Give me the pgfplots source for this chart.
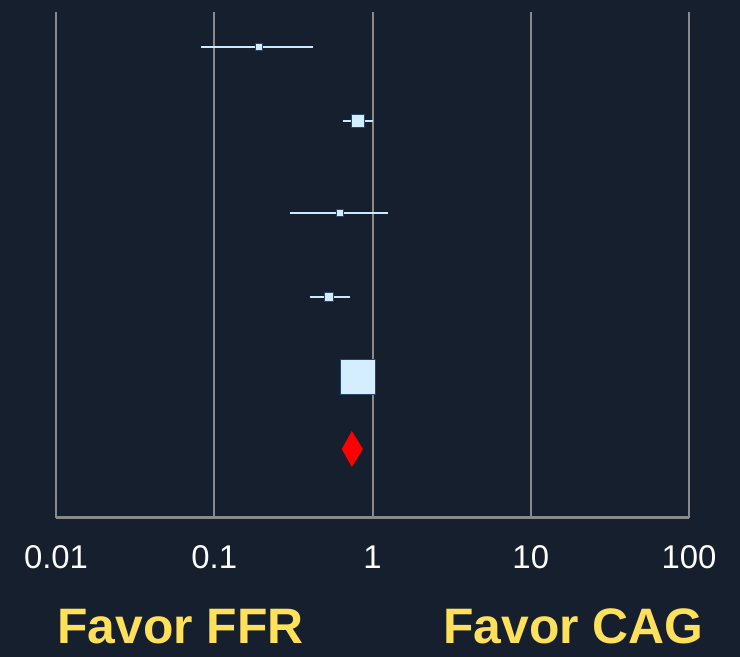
\documentclass[border=0pt]{standalone}
\usepackage{pgfplots}
\pgfplotsset{compat=1.18}
\usepackage{fontspec}
\setmainfont{Liberation Sans}
\definecolor{bg}{HTML}{161F2E}
\definecolor{gridgray}{HTML}{8A8A8A}
\definecolor{ptfill}{HTML}{D4EDFF}
\definecolor{ptedge}{HTML}{24466B}
\definecolor{ciline}{HTML}{CDE9FF}
\definecolor{favor}{HTML}{FFE05A}
\begin{document}
\begin{tikzpicture}[x=1bp,y=1bp]
\path[use as bounding box] (0,0) rectangle (740,657);
\fill[bg] (0,0) rectangle (740,657);
\begin{axis}[
  at={(56bp,139bp)}, anchor=south west,
  scale only axis, width=633bp, height=506bp,
  xmode=log, xmin=0.01, xmax=100, ymin=0, ymax=506,
  enlargelimits=false, clip=false,
  axis y line=none,
  axis x line*=bottom,
  x axis line style={-, draw=gridgray, line width=3bp},
  xtick={0.01,0.1,1,10,100},
  xticklabels={0.01,0.1,1,10,100},
  minor xtick={},
  ytick=\empty,
  major tick length=0pt, minor tick length=0pt,
  tick style={draw=none},
  xmajorgrids,
  major grid style={draw=gridgray, line width=2bp},
  xticklabel style={font=\fontsize{33}{33}\selectfont, text=white, anchor=base, inner sep=0pt, yshift=-51bp},
  ci/.style={draw=ciline, line width=2bp, no marks},
  pt/.style={only marks, mark=square*, mark options={fill=ptfill, draw=ptedge, line width=0.6bp}},
]
% CI lines
\addplot[ci] coordinates {(0.083,471) (0.42,471)};
\addplot[ci] coordinates {(0.65,397) (1.00,397)};
\addplot[ci] coordinates {(0.30,305) (1.26,305)};
\addplot[ci] coordinates {(0.40,221) (0.72,221)};
\addplot[ci] coordinates {(0.72,141.5) (0.91,141.5)};
% point estimates
\addplot[pt, mark size=3.5] coordinates {(0.19,471)};
\addplot[pt, mark size=6.75] coordinates {(0.81,397)};
\addplot[pt, mark size=3.6] coordinates {(0.62,305)};
\addplot[pt, mark size=4.6] coordinates {(0.53,221)};
\addplot[pt, mark size=17.5] coordinates {(0.81,141.5)};
% pooled estimate diamond
\addplot[fill=red, draw=none] coordinates {(0.64,69) (0.74,87) (0.87,69) (0.74,51)};
\end{axis}
\node[anchor=base west, inner sep=0pt, text depth=0pt, text=favor, font=\fontsize{50}{50}\selectfont\bfseries] at (57,13) {Favor FFR};
\node[anchor=base west, inner sep=0pt, text depth=0pt, text=favor, font=\fontsize{50}{50}\selectfont\bfseries] at (443,13) {Favor CAG};
\end{tikzpicture}
\end{document}
